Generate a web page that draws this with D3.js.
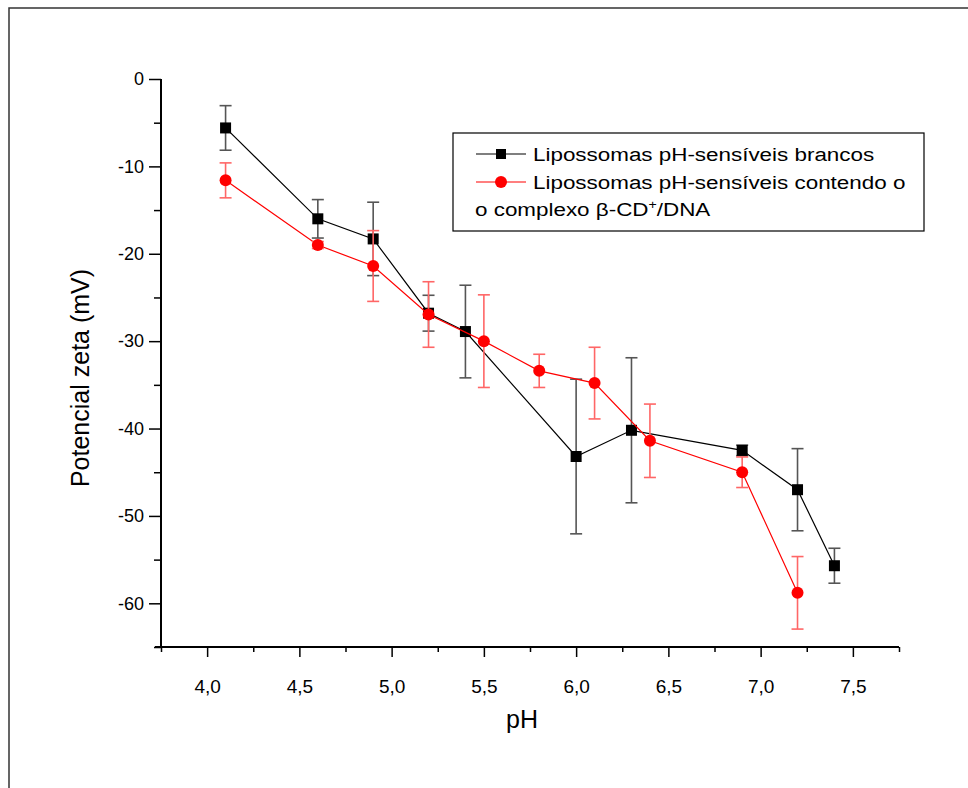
<!DOCTYPE html>
<html>
<head>
<meta charset="utf-8">
<script src="https://cdn.jsdelivr.net/npm/d3@7"></script>
<style>
  body { margin: 0; background: #fff; }
  svg { display: block; font-family: "Liberation Sans", Arial, sans-serif; }
</style>
</head>
<body>
<div id="chart"></div>
<script>
// Data
let phBrancos = [4.1, 4.6, 4.9, 5.2, 5.4, 6.0, 6.3, 6.9, 7.2, 7.4];
let zetaBrancos = [-5.6, -16.0, -18.3, -26.8, -28.9, -43.2, -40.2, -42.5, -47.0, -55.7];
let errBrancos = [2.55, 2.2, 4.2, 2.05, 5.3, 8.85, 8.3, 0.6, 4.7, 2.0];

let phComplexo = [4.1, 4.6, 4.9, 5.2, 5.5, 5.8, 6.1, 6.4, 6.9, 7.2];
let zetaComplexo = [-11.6, -19.0, -21.4, -26.95, -30.0, -33.4, -34.8, -41.4, -45.0, -58.8];
let errComplexo = [2.0, 0.4, 4.05, 3.75, 5.3, 1.9, 4.1, 4.2, 1.75, 4.15];

let xTicks = [4.0, 4.5, 5.0, 5.5, 6.0, 6.5, 7.0, 7.5];
let xMinor = [3.75, 4.25, 4.75, 5.25, 5.75, 6.25, 6.75, 7.25, 7.75];
let yTicks = [0, -10, -20, -30, -40, -50, -60];
let yMinor = [-5, -15, -25, -35, -45, -55, -65];

let width = 968;
let height = 788;

let svg = d3.select('#chart')
    .append('svg')
    .attr('width', width)
    .attr('height', height);

// outer frame (only top and left edges are in view)
svg.append('rect')
    .attr('x', 9)
    .attr('y', 8)
    .attr('width', 1200)
    .attr('height', 1200)
    .attr('fill', 'none')
    .attr('stroke', '#333')
    .attr('stroke-width', 1.5);

// Scales
let x = d3.scaleLinear().domain([3.75, 7.75]).range([161, 899]);
let y = d3.scaleLinear().domain([-65, 0]).range([647, 79]);

let fmt = d => d.toFixed(1).replace('.', ',');

// Y axis
let yAxis = svg.append('g')
    .attr('transform', 'translate(' + x(3.75) + ',0)')
    .call(d3.axisLeft(y).tickValues(yTicks).tickSize(12).tickPadding(5).tickFormat(d => String(d)));
yAxis.append('g')
    .call(d3.axisLeft(y).tickValues(yMinor).tickSize(7).tickFormat(''));
yAxis.selectAll('.domain').remove();
yAxis.append('line')
    .attr('x1', 0).attr('x2', 0)
    .attr('y1', y(0)).attr('y2', y(-65))
    .attr('stroke', '#000').attr('stroke-width', 2);

// X axis
let xAxis = svg.append('g')
    .attr('transform', 'translate(0,' + y(-65) + ')')
    .call(d3.axisBottom(x).tickValues(xTicks).tickSize(10).tickPadding(23).tickFormat(fmt));
xAxis.append('g')
    .call(d3.axisBottom(x).tickValues(xMinor).tickSize(5).tickFormat(''));
xAxis.selectAll('.domain').remove();
xAxis.append('line')
    .attr('x1', 155).attr('x2', x(7.75))
    .attr('y1', 0).attr('y2', 0)
    .attr('stroke', '#000').attr('stroke-width', 2);

svg.selectAll('.tick line').attr('stroke', '#000').attr('stroke-width', 1.5);
svg.selectAll('.tick text')
    .style('font-family', '"Liberation Sans", Arial, sans-serif')
    .style('font-size', '18px')
    .attr('fill', '#000');
xAxis.selectAll('.tick text').style('font-size', '19px');

// Axis titles
svg.append('text')
    .attr('x', 522)
    .attr('y', 728)
    .attr('text-anchor', 'middle')
    .style('font-size', '25px')
    .text('pH');

svg.append('text')
    .attr('transform', 'translate(89,' + 378 + ') rotate(-90)')
    .attr('text-anchor', 'middle')
    .style('font-size', '25px')
    .text('Potencial zeta (mV)');

// Series
function drawSeries(phs, vals, errs, color, errColor, shape) {
    let data = phs.map((p, i) => ({ ph: p, v: vals[i], e: errs[i] }));
    let g = svg.append('g');

    g.append('path')
        .datum(data)
        .attr('fill', 'none')
        .attr('stroke', color)
        .attr('stroke-width', 1.2)
        .attr('d', d3.line().x(d => x(d.ph)).y(d => y(d.v)));

    let eb = g.selectAll('.err')
        .data(data)
        .enter()
        .append('g')
        .attr('stroke', errColor)
        .attr('stroke-width', 1.6);
    eb.append('line')
        .attr('x1', d => x(d.ph)).attr('x2', d => x(d.ph))
        .attr('y1', d => y(d.v + d.e)).attr('y2', d => y(d.v - d.e));
    eb.append('line')
        .attr('x1', d => x(d.ph) - 6).attr('x2', d => x(d.ph) + 6)
        .attr('y1', d => y(d.v + d.e)).attr('y2', d => y(d.v + d.e));
    eb.append('line')
        .attr('x1', d => x(d.ph) - 6).attr('x2', d => x(d.ph) + 6)
        .attr('y1', d => y(d.v - d.e)).attr('y2', d => y(d.v - d.e));

    if (shape === 'square') {
        g.selectAll('.mk')
            .data(data)
            .enter()
            .append('rect')
            .attr('x', d => x(d.ph) - 5.5)
            .attr('y', d => y(d.v) - 5.5)
            .attr('width', 11)
            .attr('height', 11)
            .attr('fill', color);
    } else {
        g.selectAll('.mk')
            .data(data)
            .enter()
            .append('circle')
            .attr('cx', d => x(d.ph))
            .attr('cy', d => y(d.v))
            .attr('r', 6)
            .attr('fill', color);
    }
}

drawSeries(phBrancos, zetaBrancos, errBrancos, '#000', '#555', 'square');
drawSeries(phComplexo, zetaComplexo, errComplexo, '#ff0000', '#ff6666', 'circle');

// Legend
let legend = svg.append('g');
legend.append('rect')
    .attr('x', 453).attr('y', 133)
    .attr('width', 471).attr('height', 98)
    .attr('fill', '#fff')
    .attr('stroke', '#000')
    .attr('stroke-width', 1.2);

legend.append('line')
    .attr('x1', 476).attr('x2', 526).attr('y1', 154).attr('y2', 154)
    .attr('stroke', '#000').attr('stroke-width', 1.2);
legend.append('rect')
    .attr('x', 496).attr('y', 149).attr('width', 10).attr('height', 10)
    .attr('fill', '#000');
legend.append('line')
    .attr('x1', 476).attr('x2', 526).attr('y1', 182).attr('y2', 182)
    .attr('stroke', '#ff0000').attr('stroke-width', 1.2);
legend.append('circle')
    .attr('cx', 501).attr('cy', 182).attr('r', 6)
    .attr('fill', '#ff0000');

// legend text is drawn a bit wider than normal in the original
let sx = 1.18;
legend.append('text')
    .attr('transform', 'translate(533,161) scale(' + sx + ',1)')
    .style('font-size', '19px')
    .text('Lipossomas pH-sensíveis brancos');
legend.append('text')
    .attr('transform', 'translate(533,189) scale(' + sx + ',1)')
    .style('font-size', '19px')
    .text('Lipossomas pH-sensíveis contendo o');
let l3 = legend.append('text')
    .attr('transform', 'translate(475,216) scale(' + sx + ',1)')
    .style('font-size', '19px');
l3.append('tspan').text('o complexo β-CD');
l3.append('tspan').attr('dy', -7).style('font-size', '12px').text('+');
l3.append('tspan').attr('dy', 7).text('/DNA');
</script>
</body>
</html>
